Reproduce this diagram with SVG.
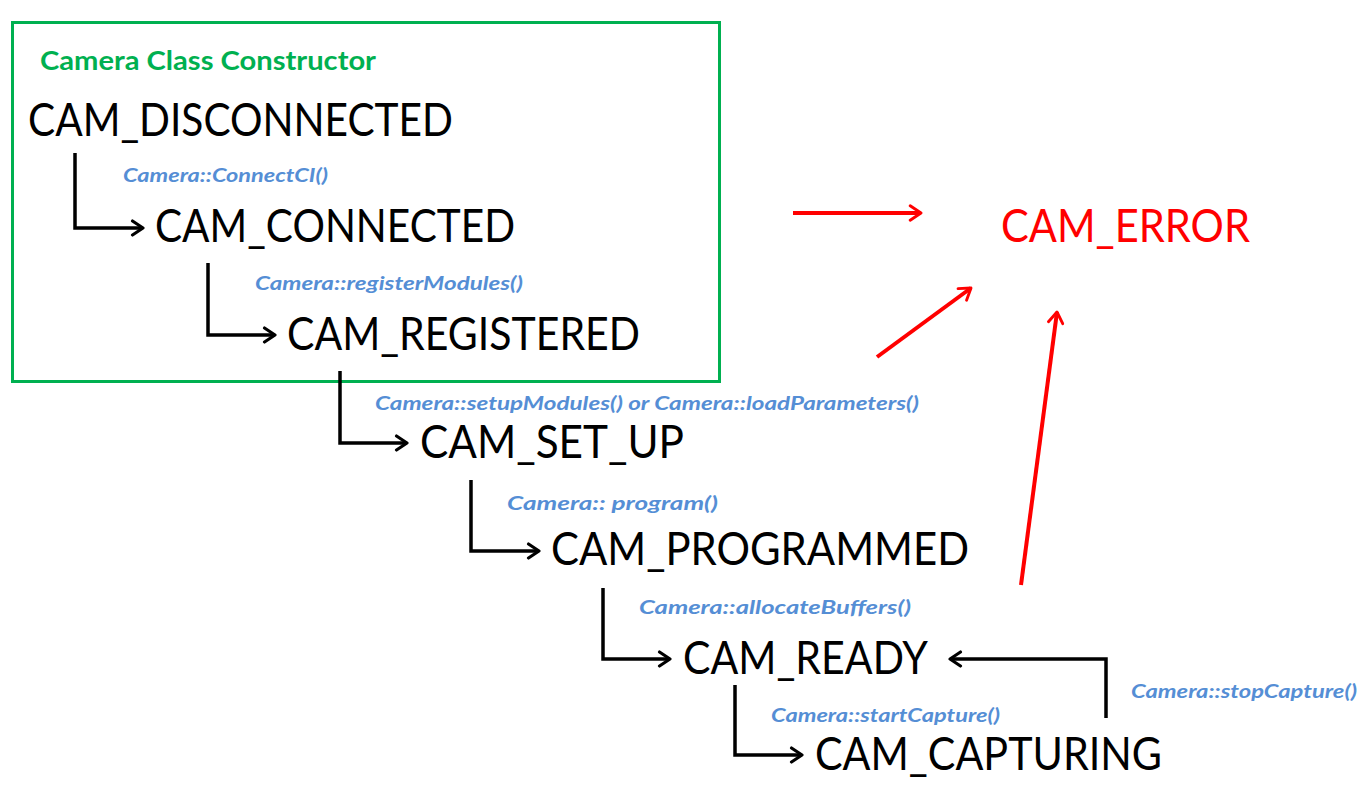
<svg xmlns="http://www.w3.org/2000/svg" width="1367" height="807" viewBox="0 0 1367 807">
<style>
.state{font-family:Lato,"Liberation Sans",sans-serif;font-size:46px;fill:#000}
.err{fill:#ff0000}
.lbl{font-family:Lato,"Liberation Sans",sans-serif;font-size:19px;font-weight:bold;font-style:italic;fill:#558ed5}
.title{font-family:Lato,"Liberation Sans",sans-serif;font-size:27px;font-weight:bold;fill:#00b050}
.blk{fill:none;stroke:#000;stroke-width:3.5;marker-end:url(#ab)}
.red{fill:none;stroke:#ff0000;stroke-width:4;marker-end:url(#ar)}
</style>
<defs>
<marker id="ab" viewBox="0 0 10 10" refX="9" refY="5" markerWidth="5" markerHeight="5" orient="auto" markerUnits="strokeWidth">
<path d="M3,1 L9,5 L3,9" fill="none" stroke="#000" stroke-width="1.8" stroke-linecap="round" stroke-linejoin="round"/>
</marker>
<marker id="ar" viewBox="0 0 10 10" refX="9" refY="5" markerWidth="4.5" markerHeight="4.5" orient="auto" markerUnits="strokeWidth">
<path d="M3,1 L9,5 L3,9" fill="none" stroke="#ff0000" stroke-width="1.6" stroke-linecap="round" stroke-linejoin="round"/>
</marker>
</defs>
<rect width="1367" height="807" fill="#fff"/>
<g id="constructor-box">
<rect x="12.5" y="22.5" width="707" height="359" fill="none" stroke="#00b050" stroke-width="3"/>
<text class="title" x="40" y="70" textLength="336" lengthAdjust="spacingAndGlyphs">Camera Class Constructor</text>
</g>
<g id="connectors">
<path class="blk" d="M75,153 V228 H143"/>
<path class="blk" d="M208,263 V335 H275"/>
<path class="blk" d="M340,371 V443 H407"/>
<path class="blk" d="M471,480 V551 H539"/>
<path class="blk" d="M603,588 V659 H670"/>
<path class="blk" d="M735,685 V755 H802"/>
<path class="blk" d="M1106,718 V659 H950"/>
<path class="red" d="M793,213 H921"/>
<path class="red" d="M877,357 L971,288"/>
<path class="red" d="M1021,585 L1057,312"/>
</g>
<g id="labels">
<text class="lbl" x="123" y="182" textLength="205" lengthAdjust="spacingAndGlyphs">Camera::ConnectCI()</text>
<text class="lbl" x="255" y="290" textLength="268" lengthAdjust="spacingAndGlyphs">Camera::registerModules()</text>
<text class="lbl" x="375" y="410" textLength="544" lengthAdjust="spacingAndGlyphs">Camera::setupModules() or Camera::loadParameters()</text>
<text class="lbl" x="507" y="510" textLength="211" lengthAdjust="spacingAndGlyphs">Camera:: program()</text>
<text class="lbl" x="639" y="614" textLength="272" lengthAdjust="spacingAndGlyphs">Camera::allocateBuffers()</text>
<text class="lbl" x="771" y="722" textLength="229" lengthAdjust="spacingAndGlyphs">Camera::startCapture()</text>
<text class="lbl" x="1131" y="698" textLength="226" lengthAdjust="spacingAndGlyphs">Camera::stopCapture()</text>
</g>
<g id="CAM_DISCONNECTED"><text class="state" x="28" y="136" textLength="425" lengthAdjust="spacingAndGlyphs">CAM_DISCONNECTED</text></g>
<g id="CAM_CONNECTED"><text class="state" x="155" y="242" textLength="360" lengthAdjust="spacingAndGlyphs">CAM_CONNECTED</text></g>
<g id="CAM_REGISTERED"><text class="state" x="287" y="350" textLength="353" lengthAdjust="spacingAndGlyphs">CAM_REGISTERED</text></g>
<g id="CAM_SET_UP"><text class="state" x="420" y="458" textLength="264" lengthAdjust="spacingAndGlyphs">CAM_SET_UP</text></g>
<g id="CAM_PROGRAMMED"><text class="state" x="551" y="565" textLength="418" lengthAdjust="spacingAndGlyphs">CAM_PROGRAMMED</text></g>
<g id="CAM_READY"><text class="state" x="683" y="674" textLength="245" lengthAdjust="spacingAndGlyphs">CAM_READY</text></g>
<g id="CAM_CAPTURING"><text class="state" x="815" y="770" textLength="347" lengthAdjust="spacingAndGlyphs">CAM_CAPTURING</text></g>
<g id="CAM_ERROR"><text class="state err" x="1001" y="242" textLength="249" lengthAdjust="spacingAndGlyphs">CAM_ERROR</text></g>
</svg>
